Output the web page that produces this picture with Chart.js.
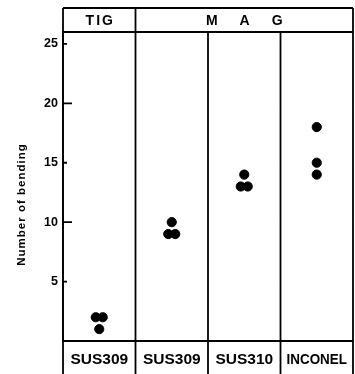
<!DOCTYPE html>
<html>
<head>
<meta charset="utf-8">
<script src="https://cdn.jsdelivr.net/npm/chart.js@4/dist/chart.umd.min.js"></script>
<style>
  html, body { margin: 0; padding: 0; background: #fff; }
  canvas { display: block; }
</style>
</head>
<body>
<canvas id="chart" width="355" height="374"></canvas>
<script>
const processes = ['TIG', 'MAG']
const processSpan = [1, 3]
const materials = ['SUS309', 'SUS309', 'SUS310', 'INCONEL']
const tigSus309 = [2, 2, 1]
const magSus309 = [10, 9, 9]
const magSus310 = [14, 13, 13]
const magInconel = [18, 15, 14]
const yTicks = [5, 10, 15, 20, 25]
const yTitle = 'Number of bending'

const FONT = 'Arial, "Liberation Sans", sans-serif'

// spread equal values side by side inside their column
function groupPoints(values, col) {
  const pts = []
  values.forEach(v => {
    const same = values.filter(w => w === v).length
    const idx = pts.filter(p => p.y === v).length
    const off = same > 1 ? (idx - (same - 1) / 2) * 0.096 : 0
    pts.push({ x: col + 0.5 + off, y: v })
  })
  return pts
}

const groups = [tigSus309, magSus309, magSus310, magInconel]
const points = groups.flatMap((g, i) => groupPoints(g, i))

const frame = {
  id: 'frame',
  afterDraw(chart) {
    const { ctx, chartArea: a, scales: { x, y } } = chart
    const H = chart.height
    const top = 8
    const right = x.getPixelForValue(materials.length)
    ctx.save()
    ctx.strokeStyle = '#000'
    ctx.lineWidth = 1.8
    ctx.beginPath()
    ctx.moveTo(a.left, top); ctx.lineTo(right, top)
    ctx.moveTo(a.left, a.top); ctx.lineTo(right, a.top)
    ctx.moveTo(a.left, a.bottom); ctx.lineTo(right, a.bottom)
    let acc = 0
    const headerCuts = [0]
    processSpan.forEach(s => { acc += s; headerCuts.push(acc) })
    for (let i = 0; i <= materials.length; i++) {
      const px = x.getPixelForValue(i)
      const y0 = headerCuts.includes(i) ? top : a.top
      ctx.moveTo(px, y0); ctx.lineTo(px, H)
    }
    yTicks.forEach(t => {
      const py = y.getPixelForValue(t)
      ctx.moveTo(a.left, py); ctx.lineTo(a.left + (t % 10 === 0 ? 9 : 4), py)
    })
    ctx.stroke()

    ctx.fillStyle = '#000'
    ctx.textAlign = 'center'
    ctx.textBaseline = 'middle'
    // header
    ctx.font = 'bold 14px ' + FONT
    let start = 0
    processes.forEach((p, i) => {
      const cx = (x.getPixelForValue(start) + x.getPixelForValue(start + processSpan[i])) / 2
      ctx.letterSpacing = processSpan[i] > 1 ? '22px' : '2px'
      // letterSpacing adds trailing space; shift to keep centred
      const shift = processSpan[i] > 1 ? 11 : 1
      ctx.fillText(p, cx + shift, (top + a.top) / 2 + 1.5)
      start += processSpan[i]
    })
    ctx.letterSpacing = '0px'
    // footer
    ctx.font = 'bold 15.5px ' + FONT
    materials.forEach((m, i) => {
      const cx = x.getPixelForValue(i + 0.5)
      const w = x.getPixelForValue(i + 1) - x.getPixelForValue(i) - 12
      ctx.fillText(m, cx, (a.bottom + H) / 2 + 2, w)
    })
    // axis title
    ctx.font = 'bold 11.5px ' + FONT
    ctx.letterSpacing = '1px'
    ctx.translate(22, 205)
    ctx.rotate(-Math.PI / 2)
    ctx.fillText(yTitle, 0.5, 0)
    ctx.restore()
  }
}

new Chart(document.getElementById('chart'), {
  type: 'scatter',
  data: {
    datasets: [{
      data: points,
      backgroundColor: '#000',
      borderColor: '#000',
      pointRadius: 4.6,
      pointHoverRadius: 4.6
    }]
  },
  options: {
    responsive: false,
    animation: false,
    layout: { padding: { left: 0, right: 2, top: 32, bottom: 33 } },
    plugins: { legend: { display: false }, tooltip: { enabled: false } },
    scales: {
      x: {
        type: 'linear', min: 0, max: materials.length,
        display: false,
        afterFit: s => { s.height = 0 }
      },
      y: {
        type: 'linear', min: 0, max: 26,
        afterFit: s => { s.width = 63 },
        afterBuildTicks: s => { s.ticks = yTicks.map(v => ({ value: v })) },
        grid: { display: false, drawTicks: false },
        border: { display: true, color: '#000', width: 1.8 },
        ticks: {
          padding: 5,
          color: '#000',
          font: { family: FONT, size: 12.5, weight: 'bold' }
        }
      }
    }
  },
  plugins: [frame, {
    id: 'fixRight',
    afterLayout(chart) {
      // keep the frame's right edge 2px inside the canvas
      const a = chart.chartArea, x = chart.scales.x
      const want = chart.width - 2
      if (Math.abs(a.right - want) > 0.5) {
        a.right = want; a.width = a.right - a.left
        x.right = want; x.width = want - x.left
        x.configure()
      }
    }
  }]
})
</script>
</body>
</html>
